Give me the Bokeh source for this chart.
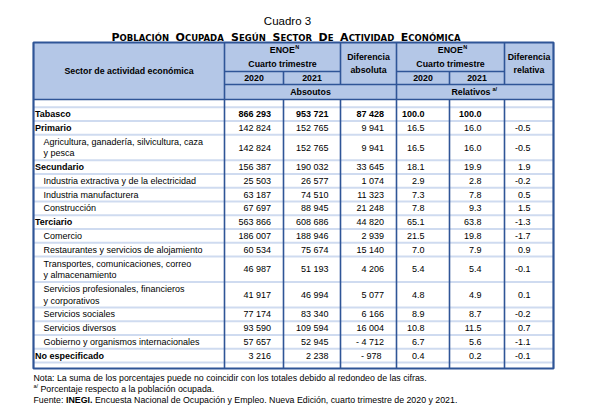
from bokeh.plotting import figure
from bokeh.models import Range1d
from bokeh.core.properties import value
from bokeh.embed import file_html
from bokeh.resources import INLINE

# ---------------- data ----------------
labels = [
    "Tabasco", "Primario", "Agricultura, ganadería, silvicultura, caza\ny pesca",
    "Secundario", "Industria extractiva y de la electricidad", "Industria manufacturera",
    "Construcción", "Terciario", "Comercio", "Restaurantes y servicios de alojamiento",
    "Transportes, comunicaciones, correo\ny almacenamiento",
    "Servicios profesionales, financieros\ny corporativos",
    "Servicios sociales", "Servicios diversos", "Gobierno y organismos internacionales",
    "No especificado",
]
levels = [0, 1, 2, 1, 2, 2, 2, 1, 2, 2, 2, 2, 2, 2, 2, 1]
v2020 = [866293, 142824, 142824, 156387, 25503, 63187, 67697, 563866, 186007, 60534,
         46987, 41917, 77174, 93590, 57657, 3216]
v2021 = [953721, 152765, 152765, 190032, 26577, 74510, 88945, 608686, 188946, 75674,
         51193, 46994, 83340, 109594, 52945, 2238]
dif_abs = [87428, 9941, 9941, 33645, 1074, 11323, 21248, 44820, 2939, 15140, 4206, 5077,
           6166, 16004, -4712, -978]
r2020 = [100.0, 16.5, 16.5, 18.1, 2.9, 7.3, 7.8, 65.1, 21.5, 7.0, 5.4, 4.8, 8.9, 10.8, 6.7, 0.4]
r2021 = [100.0, 16.0, 16.0, 19.9, 2.8, 7.8, 9.3, 63.8, 19.8, 7.9, 5.4, 4.9, 8.7, 11.5, 5.6, 0.2]
dif_rel = [None, -0.5, -0.5, 1.9, -0.2, 0.5, 1.5, -1.3, -1.7, 0.9, -0.1, 0.1, -0.2, 0.7, -1.1, -0.1]
years = ["2020", "2021"]

title = "Cuadro 3"
subtitle_words = ["POBLACIÓN", "OCUPADA", "SEGÚN", "SECTOR", "DE", "ACTIVIDAD", "ECONÓMICA"]
notes = [
    "Nota: La suma de los porcentajes puede no coincidir con los totales debido al redondeo de las cifras.",
    "Porcentaje respecto a la población ocupada.",
    "Encuesta Nacional de Ocupación y Empleo. Nueva Edición, cuarto trimestre de 2020 y 2021.",
]

# ---------------- style / layout ----------------
FONT = value("Liberation Sans")
DARK = "#2f5597"
FILL = "#b4c7e7"
SEP = "#9fb7e0"
X = [33, 224, 283, 340, 396, 449, 504, 553]
TOP, L1, L2, HB = 42, 71, 84, 99
Y0 = 106.8
H1, H2 = 13.75, 25.5
BOTTOM = 368
W, H = 606, 406


def fmt_int(v):
    s = f"{abs(v):,}".replace(",", " ")
    if v < 0:
        return "- " + s if abs(v) >= 1000 else "-  " + s
    return s


def fmt_dec(v):
    return "" if v is None else f"{v:.1f}"


p = figure(width=W, height=H, x_range=Range1d(0, W), y_range=Range1d(H, 0),
           output_backend="svg", toolbar_location=None, min_border=0,
           x_axis_type=None, y_axis_type=None)
p.grid.visible = False
p.outline_line_color = None
p.background_fill_color = "white"
p.border_fill_color = "white"

# header background
p.quad(left=[X[0]], right=[X[-1]], top=[TOP], bottom=[HB], fill_color=FILL, line_color=None)

# rows geometry
heights = [H2 if "\n" in l else H1 for l in labels]
tops = []
y = Y0
for h in heights:
    tops.append(y)
    y += h
centers = [t + h / 2 for t, h in zip(tops, heights)]

# row separators (dotted)
sep_y = [Y0] + [t + h for t, h in zip(tops, heights)]
p.segment(x0=[X[0]] * len(sep_y), x1=[X[-1]] * len(sep_y), y0=sep_y, y1=sep_y,
          line_color=SEP, line_width=2, line_dash="1 1")

# structural lines
sx0, sx1, sy0, sy1 = [], [], [], []
def seg(a, b, c, d):
    sx0.append(a); sy0.append(b); sx1.append(c); sy1.append(d)

seg(X[1], TOP, X[1], BOTTOM)
seg(X[4], TOP, X[4], BOTTOM)
for xi in (X[3], X[6]):
    seg(xi, TOP, xi, L2); seg(xi, HB, xi, BOTTOM)
for xi in (X[2], X[5]):
    seg(xi, L1, xi, L2); seg(xi, HB, xi, BOTTOM)
seg(X[1], L1, X[3], L1)
seg(X[4], L1, X[6], L1)
seg(X[1], L2, X[7], L2)
seg(X[0], HB, X[7], HB)
p.segment(x0=sx0, y0=sy0, x1=sx1, y1=sy1, line_color=DARK, line_width=1.6)
# outer border
p.quad(left=[X[0]], right=[X[-1]], top=[TOP], bottom=[BOTTOM], fill_color=None,
       line_color=DARK, line_width=2.2)

# ---------------- title ----------------
p.text(x=[287], y=[20], text=[title], text_font=FONT, text_font_size="11.5px",
       text_align="center", text_baseline="middle", text_color="black")

# subtitle in small caps (big first letter + small remainder)
DV = {" ": .348, "A": .774, "B": .765, "C": .732, "D": .827, "E": .683, "G": .823, "I": .372,
      "L": .637, "M": .994, "N": .835, "O": .850, "Ó": .850, "P": .732, "R": .771, "S": .720,
      "T": .683, "U": .815, "Ú": .815, "V": .774}
BIG, SMALL = 11.0, 8.5
tw = lambda s, size: sum(DV.get(c, .7) for c in s) * size
word_w = [tw(w[0], BIG) + tw(w[1:], SMALL) for w in subtitle_words]
total = 349
gap = (total - sum(word_w)) / (len(subtitle_words) - 1)
bx, bt, sx, st = [], [], [], []
cx = 111
for w, ww in zip(subtitle_words, word_w):
    j = cx + tw(w[0], BIG)
    bx.append(j); bt.append(w[0]); sx.append(j); st.append(w[1:])
    cx += ww + gap
SUBF = value("DejaVu Sans")
p.text(x=bx, y=[37] * len(bx), text=bt, text_font=SUBF, text_font_size=f"{BIG}px",
       text_font_style="bold", text_align="right", text_baseline="alphabetic", text_color="black")
p.text(x=sx, y=[37] * len(sx), text=st, text_font=SUBF, text_font_size=f"{SMALL}px",
       text_font_style="bold", text_align="left", text_baseline="alphabetic", text_color="black")

# ---------------- header texts ----------------
HF = "8.8px"
def htext(xs, ys, ts, align="center", size=HF, style="bold", baseline="middle"):
    p.text(x=xs, y=ys, text=ts, text_font=FONT, text_font_size=size, text_font_style=style,
           text_align=align, text_baseline=baseline, text_color="black")

htext([(X[0] + X[1]) / 2], [70], ["Sector de actividad económica"])
g1 = (X[1] + X[3]) / 2
g2 = (X[4] + X[6]) / 2
htext([g1 + 12.3, g2 + 12.3], [49, 49], ["ENOE", "ENOE"], align="right")
htext([g1 + 12.8, g2 + 12.8], [46, 46], ["N", "N"], align="left", size="5.5px")
htext([g1, g2], [63, 63], ["Cuarto trimestre", "Cuarto trimestre"])
yc = [(X[1] + X[2]) / 2, (X[2] + X[3]) / 2, (X[4] + X[5]) / 2, (X[5] + X[6]) / 2]
htext(yc, [77.8] * 4, years + years)
htext([(X[3] + X[4]) / 2] * 2 + [(X[6] + X[7]) / 2] * 2, [56, 69, 56, 69],
      ["Diferencia", "absoluta", "Diferencia", "relativa"])
htext([(X[1] + X[4]) / 2], [91.5], ["Absoutos"])
htext([490], [91.5], ["Relativos"], align="right")
htext([492], [88.5], ["a/"], align="left", size="5.5px")

# ---------------- body ----------------
bold_all = [lv == 0 for lv in levels]
lab_x = [34.5 if lv < 2 else 43 for lv in levels]
for bold in (True, False):
    idx = [i for i, lv in enumerate(levels) if (lv < 2) == bold]
    p.text(x=[lab_x[i] for i in idx], y=[centers[i] for i in idx], text=[labels[i] for i in idx],
           text_font=FONT, text_font_size="9px", text_font_style="bold" if bold else "normal",
           text_align="left", text_baseline="middle", text_color="black", text_line_height=1.15)

cols = [
    ([fmt_int(v) for v in v2020], X[2] - 12.5),
    ([fmt_int(v) for v in v2021], X[3] - 12),
    ([fmt_int(v) for v in dif_abs], X[4] - 12.5),
    ([fmt_dec(v) for v in r2020], X[5] - 25),
    ([fmt_dec(v) for v in r2021], X[6] - 23),
    ([fmt_dec(v) for v in dif_rel], X[7] - 23),
]
for texts, rx in cols:
    for bold in (True, False):
        idx = [i for i in range(len(texts)) if bold_all[i] == bold]
        p.text(x=[rx] * len(idx), y=[centers[i] for i in idx], text=[texts[i] for i in idx],
               text_font=FONT, text_font_size="9px",
               text_font_style="bold" if bold else "normal",
               text_align="right", text_baseline="middle", text_color="black")

# ---------------- notes ----------------
NF = "8.8px"
p.text(x=[33], y=[377], text=[notes[0]], text_font=FONT, text_font_size=NF,
       text_align="left", text_baseline="middle", text_color="black")
p.text(x=[33], y=[385.5], text=["a/"], text_font=FONT, text_font_size="5.5px",
       text_align="left", text_baseline="middle", text_color="black")
p.text(x=[40], y=[388], text=[notes[1]], text_font=FONT, text_font_size=NF,
       text_align="left", text_baseline="middle", text_color="black")
p.text(x=[33], y=[399], text=["Fuente:"], text_font=FONT, text_font_size=NF,
       text_align="left", text_baseline="middle", text_color="black")
p.text(x=[65.5], y=[399], text=["INEGI."], text_font=FONT, text_font_size=NF,
       text_font_style="bold", text_align="left", text_baseline="middle", text_color="black")
p.text(x=[94.5], y=[399], text=[notes[2]], text_font=FONT, text_font_size=NF,
       text_align="left", text_baseline="middle", text_color="black")

open("out.html", "w").write(file_html(p, INLINE))
